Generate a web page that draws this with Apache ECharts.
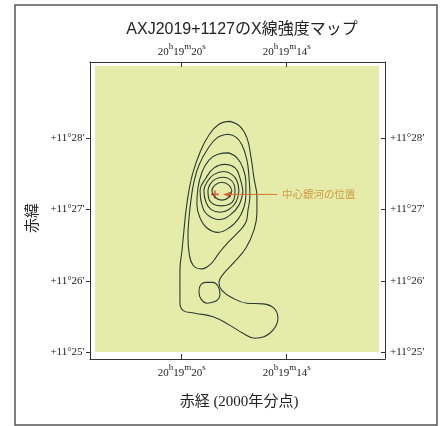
<!DOCTYPE html>
<html>
<head>
<meta charset="utf-8">
<script src="https://cdn.jsdelivr.net/npm/echarts@6/dist/echarts.min.js"></script>
<style>
  html, body { margin: 0; padding: 0; background: #fff; }
  #main { width: 443px; height: 426px; }
</style>
</head>
<body>
<div id="main"></div>
<script>
// axis ticks: RA seconds (20h19m..s) and Dec arcmin (+11deg..')
var raTicks = [20, 14];
var decTicks = [25, 26, 27, 28];

// contour lines, [RA seconds, Dec arcmin]
var ring0 = [[17.13,27.26],[17.30,27.34],[17.70,27.38],[18.10,27.34],[18.27,27.26],[18.10,27.17],[17.70,27.13],[17.30,27.17],[17.13,27.26]];
var ring1 = [[16.95,27.26],[17.01,27.35],[17.24,27.42],[17.64,27.45],[18.10,27.42],[18.38,27.35],[18.50,27.26],[18.44,27.14],[18.15,27.07],[17.75,27.05],[17.30,27.07],[17.01,27.14],[16.95,27.26]];
var ring2 = [[16.73,27.26],[16.84,27.40],[17.13,27.49],[17.58,27.53],[18.15,27.49],[18.50,27.40],[18.73,27.26],[18.61,27.10],[18.33,27.00],[17.81,26.96],[17.30,27.00],[16.90,27.10],[16.73,27.26]];
var ring3 = [[16.50,27.26],[16.67,27.44],[16.95,27.58],[17.53,27.63],[18.15,27.58],[18.61,27.44],[18.95,27.26],[18.84,27.06],[18.50,26.92],[17.87,26.86],[17.24,26.92],[16.73,27.06],[16.50,27.26]];
var ring4 = [[17.30,27.79],[16.84,27.72],[16.50,27.58],[16.33,27.38],[16.33,27.20],[16.44,27.03],[16.78,26.86],[17.30,26.74],[17.93,26.68],[18.55,26.74],[18.95,26.88],[19.13,27.07],[19.07,27.30],[18.84,27.52],[18.44,27.69],[17.93,27.77],[17.30,27.79]];
var tail = [[17.35,28.05],[16.90,28.01],[16.55,27.90],[16.27,27.69],[16.15,27.44],[16.10,27.19],[16.21,26.99],[16.33,26.82],[16.78,26.68],[17.35,26.54],[17.87,26.39],[18.33,26.24],[18.90,26.17],[19.35,26.22],[19.58,26.40],[19.64,26.63],[19.58,26.88],[19.47,27.13],[19.30,27.38],[19.01,27.62],[18.55,27.83],[17.98,28.00],[17.35,28.05]];
var outer = [[17.24,28.23],[16.67,28.16],[16.27,28.00],[16.04,27.73],[15.87,27.44],[15.70,27.17],[15.70,26.95],[15.87,26.71],[16.33,26.46],[17.01,26.26],[17.58,26.11],[17.87,25.98],[17.70,25.87],[17.07,25.76],[16.27,25.69],[15.35,25.68],[14.73,25.62],[14.50,25.48],[14.73,25.33],[15.30,25.22],[15.81,25.20],[16.50,25.27],[17.24,25.38],[18.21,25.50],[19.24,25.55],[19.93,25.59],[20.10,25.73],[20.10,25.94],[20.10,26.15],[19.98,26.43],[19.87,26.71],[19.75,26.99],[19.58,27.27],[19.35,27.52],[18.95,27.80],[18.44,28.04],[17.87,28.19],[17.24,28.23]];
var island = [[17.81,25.83],[17.93,25.93],[18.21,25.98],[18.61,25.98],[18.95,25.93],[19.01,25.85],[18.90,25.75],[18.55,25.69],[18.15,25.71],[17.87,25.76],[17.81,25.83]];

var galaxyPos = [18.10, 27.21];
var pointerLine = [[14.55, 27.21], [17.35, 27.21]];
var pointerTip = [17.41, 27.21];
var pointerLabelAt = [14.38, 27.21];
var pointerText = '中心銀河の位置';

var contours = [ring0, ring1, ring2, ring3, ring4, tail, outer, island];

var chart = echarts.init(document.getElementById('main'));

var serif = 'Liberation Serif, Noto Sans CJK JP';
var inkColor = '#2b3a36';

function raLabel(v) {
    return '{n|20}{u|h}{n|19}{u|m}{n|' + v + '}{u|s}';
}
var raRich = {
    n: { fontFamily: serif, fontSize: 11, color: '#222', lineHeight: 16, verticalAlign: 'bottom' },
    u: { fontFamily: serif, fontSize: 9, color: '#222', lineHeight: 16, verticalAlign: 'top' }
};
function decLabel(v) {
    return '+11°' + v + '′';
}

function xAx(pos) {
    return {
        type: 'value', min: 8.38, max: 25.24, inverse: true, position: pos,
        axisLine: { show: true, lineStyle: { color: '#333', width: 1 } },
        axisTick: { show: true, inside: true, length: 5, customValues: raTicks, lineStyle: { color: '#333' } },
        axisLabel: { show: true, customValues: raTicks, formatter: raLabel, rich: raRich, margin: 4 },
        splitLine: { show: false }
    };
}
function yAx(pos, inside) {
    return {
        type: 'value', min: 24.91, max: 29.06, position: pos,
        axisLine: { show: true, lineStyle: { color: '#333', width: 1 } },
        axisTick: { show: true, inside: inside, length: 4, customValues: decTicks, lineStyle: { color: '#333' } },
        axisLabel: { show: true, customValues: decTicks, formatter: decLabel, margin: 5,
            fontFamily: serif, fontSize: 11, color: '#222' },
        splitLine: { show: false }
    };
}

var series = contours.map(function (pts) {
    return {
        type: 'line', data: pts, smooth: 0.45, showSymbol: false, silent: true,
        lineStyle: { color: inkColor, width: 1.1 }
    };
});
series.push({
    type: 'line', data: pointerLine, showSymbol: false, silent: true,
    lineStyle: { color: '#d9703a', width: 1 }
});
series.push({
    type: 'scatter', data: [pointerTip], symbol: 'triangle', symbolRotate: 90,
    symbolSize: [6, 8], itemStyle: { color: '#d4402a' }, silent: true
});
series.push({
    type: 'scatter', data: [galaxyPos], symbol: 'path://M4,0H6V4H10V6H6V10H4V6H0V4H4Z',
    symbolSize: 8, itemStyle: { color: '#d4402a' }, silent: true
});
series.push({
    type: 'scatter', data: [pointerLabelAt], symbolSize: 0, silent: true,
    label: { show: true, position: 'right', distance: 2, formatter: pointerText,
        fontFamily: 'Noto Sans CJK JP', fontSize: 10.5, color: '#c8862c' }
});

var option = {
    animation: false,
    title: {
        text: 'AXJ2019+1127のX線強度マップ',
        left: 237, top: 17, textAlign: 'center',
        textStyle: { fontFamily: 'Liberation Sans, Noto Sans CJK JP', fontSize: 16, fontWeight: 'normal', color: '#222' }
    },
    grid: { left: 90, right: 58, top: 62, bottom: 67 },
    graphic: [
        { type: 'rect', z: -10, shape: { x: 95, y: 66, width: 284, height: 286 },
          style: { fill: '#e5eca9' } },
        { type: 'rect', z: -10, shape: { x: 15, y: 5, width: 422, height: 420 },
          style: { fill: 'none', stroke: '#555', lineWidth: 1.5 } },
        { type: 'text', x: 239, y: 402,
          style: { text: '赤経 (2000年分点)', fontFamily: serif, fontSize: 15, fill: '#222',
              textAlign: 'center', textVerticalAlign: 'middle' } },
        { type: 'text', x: 33, y: 218, rotation: Math.PI / 2,
          style: { text: '赤緯', fontFamily: serif, fontSize: 15, fill: '#222',
              textAlign: 'center', textVerticalAlign: 'middle' } }
    ],
    xAxis: [xAx('bottom'), xAx('top')],
    yAxis: [yAx('left', false), yAx('right', true)],
    series: series
};
chart.setOption(option);
</script>
</body>
</html>
